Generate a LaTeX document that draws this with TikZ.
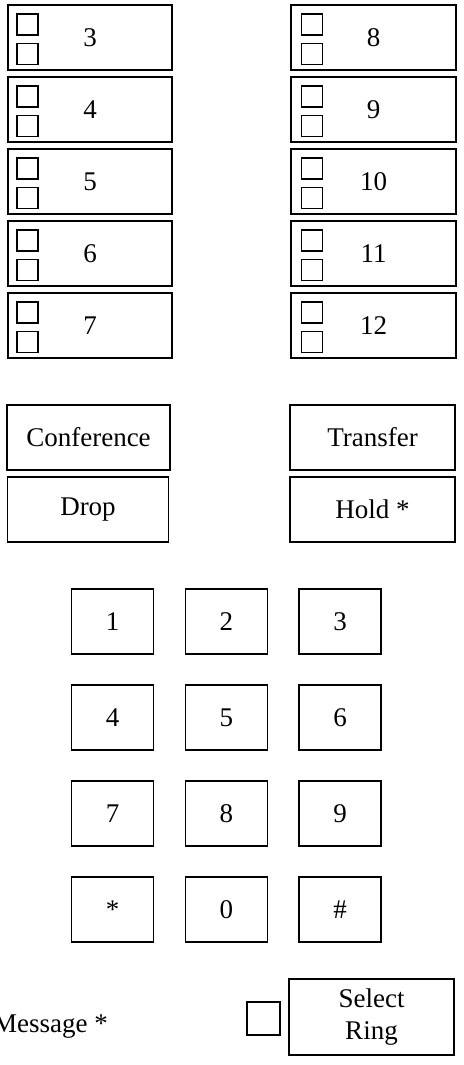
\documentclass[tikz,border=0pt]{standalone}
\usepackage{fontspec}
\setmainfont{Liberation Serif}
\begin{document}
\begin{tikzpicture}[x=1pt,y=-1pt,
  panel/.style={draw, line width=1.4pt, inner sep=0pt, font=\fontsize{27}{32}\selectfont},
  linebox/.style={panel, minimum width=164pt, minimum height=65pt},
  featbox/.style={panel, minimum width=164pt, minimum height=65pt},
  padkey/.style={panel, minimum width=82pt, minimum height=65pt},
  lamp/.style={draw, line width=1.1pt, inner sep=0pt, minimum size=21pt}]
\useasboundingbox (0,0) rectangle (463,1065);
\fill[white] (0,0) rectangle (463,1065);

% line appearance buttons, each with two status lamps
\foreach \n/\t in {3/5,4/77,5/149,6/221,7/293}{
  \node[linebox] (line\n) at (90,\t+32.5) {\n};
  \node[lamp] (lampA\n) at (27.5,\t+19.5) {};
  \node[lamp] (lampB\n) at (27.5,\t+49) {};
}
\foreach \n/\t in {8/5,9/77,10/149,11/221,12/293}{
  \node[linebox, minimum width=165pt] (line\n) at (373.5,\t+32.5) {\n};
  \node[lamp] (lampA\n) at (312,\t+19.5) {};
  \node[lamp] (lampB\n) at (312,\t+49) {};
}

% feature buttons
\node[featbox, minimum width=163pt] (conf) at (88.5,437.5) {Conference};
\node[featbox, minimum width=161pt] (drop) at (88,509.5) {Drop};
\node[featbox, minimum width=165pt] (xfer) at (372.5,437.5) {Transfer};
\node[featbox, minimum width=165pt] (hold) at (372.5,509.5) {Hold *};

% dial pad
\foreach \k/\c/\r in {1/0/0,2/1/0,3/2/0,4/0/1,5/1/1,6/2/1,7/0/2,8/1/2,9/2/2,star/0/3,0/1/3,hash/2/3}{
  \coordinate (pos\k) at (112.5+113.75*\c, 621.5+96*\r);
}
\foreach \k in {1,...,9,0}{
  \node[padkey] (key\k) at (pos\k) {\k};
}
\node[padkey] (keystar) at (posstar) {*};
\node[padkey] (keyhash) at (poshash) {\#};

% message indicator and ring selection
\node[anchor=base east, inner sep=0pt, font=\fontsize{27}{32}\selectfont] (msg) at (108,1032) {Message *};
\node[lamp, minimum size=33pt] (ringlamp) at (263.5,1018.5) {};
\node[panel, minimum width=165pt, minimum height=76pt, align=center] (ring) at (371.5,1017) {Select\\Ring};
\end{tikzpicture}
\end{document}
